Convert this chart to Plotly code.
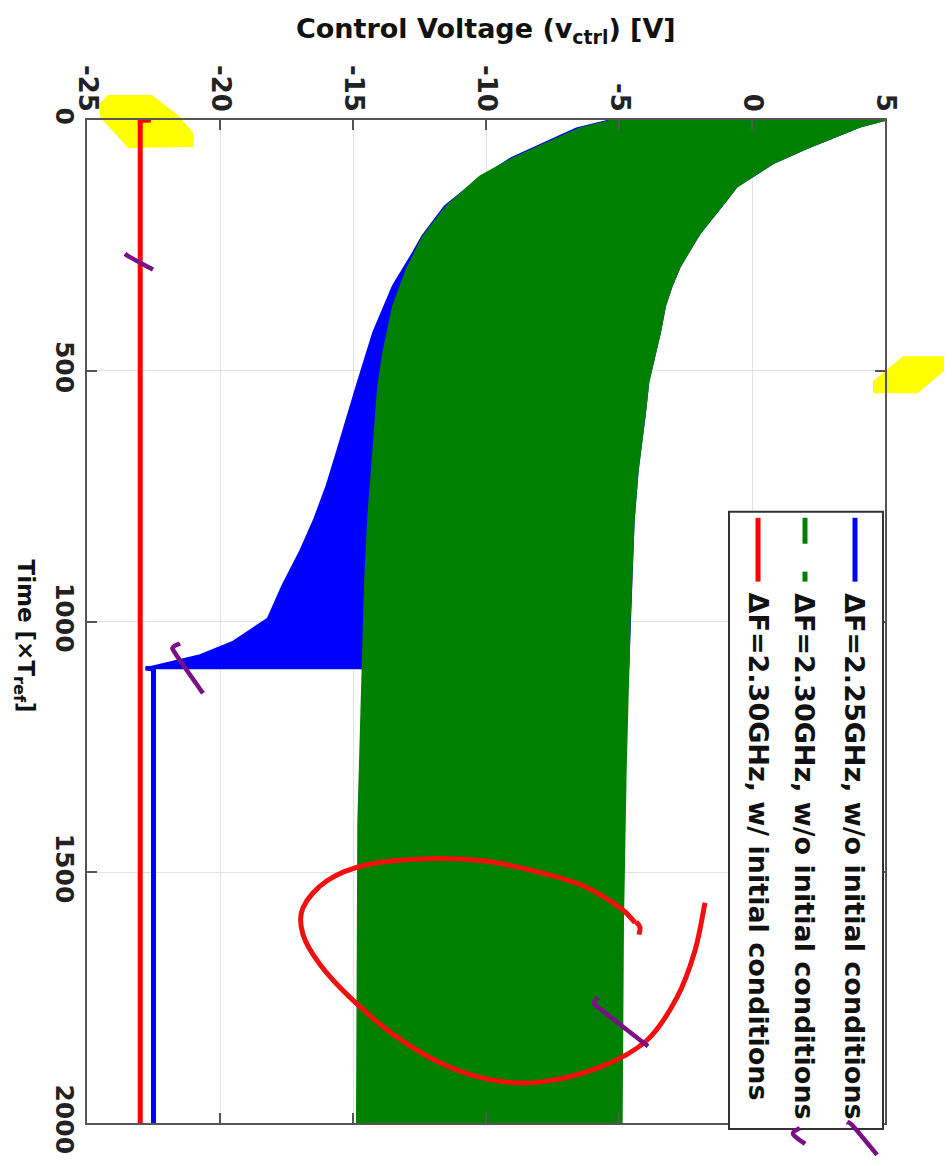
import plotly.graph_objects as go

# ---------------- data ----------------
volt_ticks = [-25, -20, -15, -10, -5, 0, 5]
volt_tick_labels = ["-25", "-20", "-15", "-10", "-5", "0", "5"]
time_ticks = [0, 500, 1000, 1500, 2000]
time_tick_labels = ["0", "500", "1000", "1500", "2000"]

# dF = 2.25 GHz, w/o initial conditions (oscillation envelope, then locked)
blue_upper_t = [0, 13, 40, 56, 86, 116, 133, 159, 192, 225, 258, 292, 331, 371, 424, 477, 523, 583,
                700, 800, 1000, 1093]
blue_upper_v = [5.0, 4.06, 2.81, 2.06, 0.80, -0.08, -0.58, -0.95, -1.45, -1.95, -2.33, -2.71, -3.02,
                -3.27, -3.46, -3.71, -3.90, -4.02, -4.3, -4.45, -4.6, -4.65]
blue_lower_t = [0, 17, 46, 76, 119, 172, 232, 265, 331, 424, 530, 596, 663, 729, 795, 861, 928, 994,
                1040, 1067, 1080, 1093]
blue_lower_v = [-5.3, -6.6, -7.8, -9.05, -10.3, -11.55, -12.4, -12.75, -13.5, -14.24, -14.86, -15.24,
                -15.61, -15.99, -16.45, -17.0, -17.65, -18.2, -19.5, -20.75, -21.8, -22.8]
blue_lock_t = [1093, 1095, 2000]
blue_lock_v = [-22.8, -22.5, -22.5]

# dF = 2.30 GHz, w/o initial conditions (oscillation envelope)
green_upper_t = [0, 13, 40, 56, 86, 116, 133, 159, 192, 225, 258, 292, 331, 371, 424, 477, 523, 583,
                 700, 800, 1000, 1300, 1600, 2000]
green_upper_v = [5.0, 4.06, 2.81, 2.06, 0.80, -0.08, -0.58, -0.95, -1.45, -1.95, -2.33, -2.71, -3.02,
                 -3.27, -3.46, -3.71, -3.90, -4.02, -4.3, -4.45, -4.6, -4.75, -4.85, -4.9]
green_lower_t = [0, 17, 46, 76, 113, 172, 232, 298, 371, 464, 530, 663, 795, 928, 1100, 1400, 2000]
green_lower_v = [-5.2, -6.47, -7.72, -8.97, -10.23, -11.48, -12.36, -12.98, -13.49, -13.86, -14.05,
                 -14.24, -14.43, -14.55, -14.65, -14.8, -14.85]

# dF = 2.30 GHz, w/ initial conditions
red_t = [0, 1, 2000]
red_v = [-22.6, -23.0, -23.0]

legend_labels = [
    "\u0394F=2.25GHz, w/o initial conditions",
    "\u0394F=2.30GHz, w/o initial conditions",
    "\u0394F=2.30GHz, w/ initial conditions",
]

BLUE = "#0000ff"
GREEN = "#008000"
RED = "#ff0000"

# ---------------- layout geometry (page pixels) ----------------
PAGE_OFF = 8                      # browser default body margin
W, H = 952 - PAGE_OFF, 1166 - PAGE_OFF
L, R, T, B = 87, 885, 120, 1126   # plot area in page pixels


def px(x):
    return (x - L) / (R - L)


def py(y):
    return (B - y) / (B - T)


def poly_path(pts, close=False):
    s = "M " + " L ".join(f"{px(x):.5f},{py(y):.5f}" for x, y in pts)
    return s + (" Z" if close else "")


def smooth_path(pts):
    # Catmull-Rom -> cubic bezier
    P = [(px(x), py(y)) for x, y in pts]
    s = f"M {P[0][0]:.5f},{P[0][1]:.5f}"
    for i in range(len(P) - 1):
        p0 = P[i - 1] if i > 0 else P[i]
        p1 = P[i]
        p2 = P[i + 1]
        p3 = P[i + 2] if i + 2 < len(P) else P[i + 1]
        c1 = (p1[0] + (p2[0] - p0[0]) / 6, p1[1] + (p2[1] - p0[1]) / 6)
        c2 = (p2[0] - (p3[0] - p1[0]) / 6, p2[1] - (p3[1] - p1[1]) / 6)
        s += f" C {c1[0]:.5f},{c1[1]:.5f} {c2[0]:.5f},{c2[1]:.5f} {p2[0]:.5f},{p2[1]:.5f}"
    return s


fig = go.Figure()

# blue oscillation band
fig.add_trace(go.Scatter(
    x=blue_upper_v + blue_lower_v[::-1],
    y=blue_upper_t + blue_lower_t[::-1],
    mode="lines", fill="toself", fillcolor=BLUE,
    line=dict(color=BLUE, width=2), showlegend=False, hoverinfo="skip"))
fig.add_trace(go.Scatter(
    x=blue_lock_v, y=blue_lock_t, mode="lines",
    line=dict(color=BLUE, width=5), showlegend=False))
# green oscillation band
fig.add_trace(go.Scatter(
    x=green_upper_v + green_lower_v[::-1],
    y=green_upper_t + green_lower_t[::-1],
    mode="lines", fill="toself", fillcolor=GREEN,
    line=dict(color=GREEN, width=2), showlegend=False, hoverinfo="skip"))
# red
fig.add_trace(go.Scatter(
    x=red_v, y=red_t, mode="lines",
    line=dict(color=RED, width=5), showlegend=False))

AX = "#555555"
FONT = "DejaVu Sans"

fig.update_layout(
    width=W, height=H, autosize=False,
    margin=dict(l=L - PAGE_OFF, r=952 - R, t=T - PAGE_OFF, b=1166 - B, pad=0),
    paper_bgcolor="white", plot_bgcolor="rgba(0,0,0,0)",
    showlegend=False,
    xaxis=dict(
        range=[-25, 5], side="top", tickvals=volt_ticks, ticktext=volt_tick_labels,
        tickangle=90, tickfont=dict(family=FONT, size=26, color="#222", weight="bold"),
        showgrid=True, gridcolor="#e3e3e3", gridwidth=1, zeroline=False,
        showline=True, linecolor=AX, linewidth=2, mirror="ticks",
        ticks="inside", ticklen=10, tickcolor=AX, tickwidth=2,
        ticklabelstandoff=-3,
    ),
    yaxis=dict(
        range=[2000, 0], tickvals=time_ticks, ticktext=time_tick_labels,
        tickangle=90, tickfont=dict(family=FONT, size=25, color="#222", weight="bold"),
        showgrid=True, gridcolor="#e3e3e3", gridwidth=1, zeroline=False,
        showline=True, linecolor=AX, linewidth=2, mirror="ticks",
        ticks="inside", ticklen=10, tickcolor=AX, tickwidth=2,
        ticklabelstandoff=-1,
    ),
)

shapes = []
# yellow highlighter marks (below the traces)
shapes.append(dict(type="path", xref="paper", yref="paper", layer="below",
                   path=poly_path([(108, 95), (152, 95), (180, 117), (193, 133), (193, 147),
                                   (128, 148), (100, 117), (100, 103)], close=True),
                   fillcolor="#ffff00", line=dict(width=0)))
shapes.append(dict(type="path", xref="paper", yref="paper", layer="below",
                   path=poly_path([(903, 357), (948, 357), (948, 368), (918, 394),
                                   (873, 394), (873, 382)], close=True),
                   fillcolor="#ffff00", line=dict(width=0)))

# legend box
shapes.append(dict(type="rect", xref="paper", yref="paper",
                   x0=px(729), x1=px(883), y0=py(1132), y1=py(513),
                   fillcolor="white", line=dict(color="#333333", width=2)))
# legend samples
shapes.append(dict(type="line", xref="paper", yref="paper",
                   x0=px(855), x1=px(855), y0=py(519), y1=py(583),
                   line=dict(color=BLUE, width=5)))
shapes.append(dict(type="line", xref="paper", yref="paper",
                   x0=px(805), x1=px(805), y0=py(519), y1=py(545),
                   line=dict(color=GREEN, width=5)))
shapes.append(dict(type="line", xref="paper", yref="paper",
                   x0=px(805), x1=px(805), y0=py(573), y1=py(583),
                   line=dict(color=GREEN, width=5)))
shapes.append(dict(type="line", xref="paper", yref="paper",
                   x0=px(758), x1=px(758), y0=py(519), y1=py(583),
                   line=dict(color=RED, width=5)))

# hand-drawn red ellipse
ellipse_pts = [(635, 925), (620, 910), (583, 888), (533, 873), (483, 863),
               (427, 861), (367, 867), (327, 883), (303, 910), (303, 937), (320, 967),
               (350, 1000), (393, 1037), (443, 1067), (493, 1083), (540, 1085),
               (600, 1070), (647, 1043), (677, 1000), (695, 953), (705, 905)]
shapes.append(dict(type="path", xref="paper", yref="paper",
                   path=smooth_path(ellipse_pts),
                   line=dict(color="#f01010", width=5)))
shapes.append(dict(type="path", xref="paper", yref="paper",
                   path=smooth_path([(636, 924), (640, 930), (639, 937)]),
                   line=dict(color="#f01010", width=5)))

# purple check marks
PURPLE = "#7b0f86"
for pts in [
    [(125, 254), (129, 257), (153, 270)],
    [(180, 645), (173, 649), (176, 656), (203, 695)],
    [(598, 1000), (594, 1006), (602, 1013), (648, 1049)],
    [(800, 1131), (793, 1137), (805, 1147)],
    [(847, 1125), (853, 1129), (877, 1158)],
]:
    shapes.append(dict(type="path", xref="paper", yref="paper",
                       path=smooth_path(pts), line=dict(color=PURPLE, width=4.5)))

fig.update_layout(shapes=shapes)

annotations = []
# axis titles
annotations.append(dict(
    text="Control Voltage (v<sub>ctrl</sub>) [V]", xref="paper", yref="paper",
    x=px(486), y=py(30), xanchor="center", yanchor="middle", showarrow=False,
    font=dict(family=FONT, size=27, color="#111", weight="bold")))
annotations.append(dict(
    text="Time [\u00d7T<sub>ref</sub>]", xref="paper", yref="paper",
    x=px(24), y=py(637), xanchor="center", yanchor="middle", showarrow=False,
    textangle=90, font=dict(family=FONT, size=23, color="#111", weight="bold")))
# legend texts
for xc, lab in zip([855, 805, 758], legend_labels):
    annotations.append(dict(
        text=lab, xref="paper", yref="paper", x=px(xc), y=py(592),
        xanchor="center", yanchor="top", showarrow=False, textangle=90,
        font=dict(family=FONT, size=27, color="#111", weight="bold")))
fig.update_layout(annotations=annotations)

fig.write_html("out.html")
